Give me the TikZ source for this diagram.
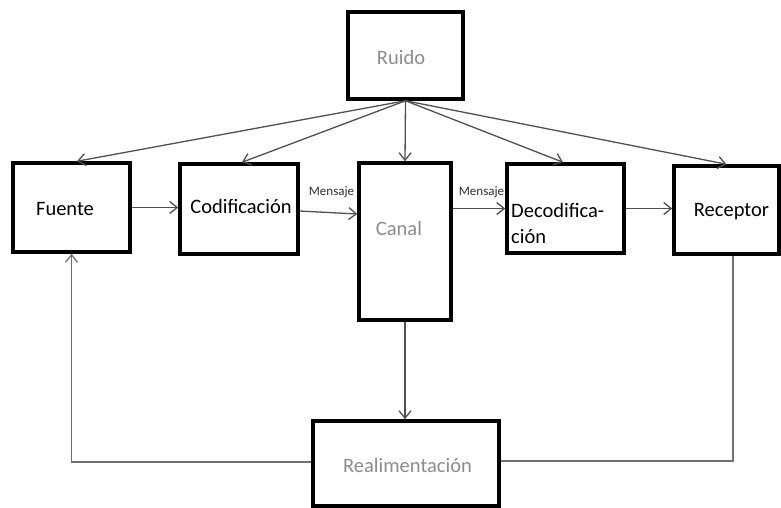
\documentclass[tikz,border=0pt]{standalone}
\usepackage{fontspec}
\setmainfont{Carlito}
\usetikzlibrary{arrows.meta}
\definecolor{lightgraytext}{HTML}{8C8C8C}
\definecolor{arrowgray}{HTML}{505050}
\definecolor{fbgray}{HTML}{707070}
\definecolor{msgcolor}{HTML}{2A2F3A}
\begin{document}
\begin{tikzpicture}[x=1pt,y=-1pt,
  blk/.style={draw=black,line width=3.5pt,rectangle,inner sep=0pt},
  txt/.style={inner sep=0pt,anchor=base,font=\fontsize{20.5}{24}\selectfont},
  gtxt/.style={txt,text=lightgraytext},
  msg/.style={inner sep=0pt,anchor=base,font=\fontsize{13}{15}\selectfont,text=msgcolor},
  tip/.style={-{Straight Barb[length=7.5pt,width=12pt]}},
  arr/.style={draw=arrowgray,line width=1.3pt,tip},
  fb/.style={draw=fbgray,line width=1.3pt}]
\useasboundingbox (0,0) rectangle (781,508);
% boxes
\node[blk,minimum width=115pt,minimum height=87pt] (ruido) at (405.5,55.5) {};
\node[blk,minimum width=117pt,minimum height=89pt] (fuente) at (71.5,207.5) {};
\node[blk,minimum width=118pt,minimum height=90pt] (cod) at (239,209) {};
\node[blk,minimum width=92pt,minimum height=157pt] (canal) at (405,241.5) {};
\node[blk,minimum width=117pt,minimum height=89pt] (dec) at (565.5,208.5) {};
\node[blk,minimum width=105pt,minimum height=88pt] (rec) at (726.5,210) {};
\node[blk,minimum width=186pt,minimum height=85pt] (realim) at (406,463.5) {};
% texts
\node[gtxt] (truido) at (401,65) {Ruido};
\node[txt] (tfuente) at (65,215) {Fuente};
\node[txt] (tcod) at (241,213) {Codificación};
\node[gtxt] (tcanal) at (399,235) {Canal};
\node[txt,anchor=base west] (tdec1) at (511,217) {Decodifica-};
\node[txt,anchor=base west] (tdec2) at (511,243) {ción};
\node[txt] (trec) at (731.5,216) {Receptor};
\node[gtxt] (trealim) at (407.5,472) {Realimentación};
\node[msg] (m1) at (331.5,195) {Mensaje};
\node[msg] (m2) at (481.5,195) {Mensaje};
% noise arrows
\draw[arr] (ruido.south) -- ([xshift=5.5pt]fuente.north);
\draw[arr] (ruido.south) -- ([xshift=3pt]cod.north);
\draw[arr] (ruido.south) -- (canal.north);
\draw[arr] (ruido.south) -- ([xshift=-2.5pt]dec.north);
\draw[arr] (ruido.south) -- (rec.north);
% main chain
\draw[arr] (fuente.east) -- (cod.west |- fuente.east);
\draw[arr] ([yshift=-2pt]cod.east) -- ([yshift=-5pt]canal.west |- cod.east);
\draw[arr] (canal.east |- dec.west) -- (dec.west);
\draw[arr] (dec.east) -- (rec.west |- dec.east);
\draw[arr] (canal.south) -- (canal.south |- realim.north);
% feedback
\draw[fb,tip] ([yshift=1.5pt]realim.west) -| (fuente.south);
\draw[fb] ([xshift=6.5pt]rec.south) |- ([yshift=2.5pt]realim.east);
\end{tikzpicture}
\end{document}
